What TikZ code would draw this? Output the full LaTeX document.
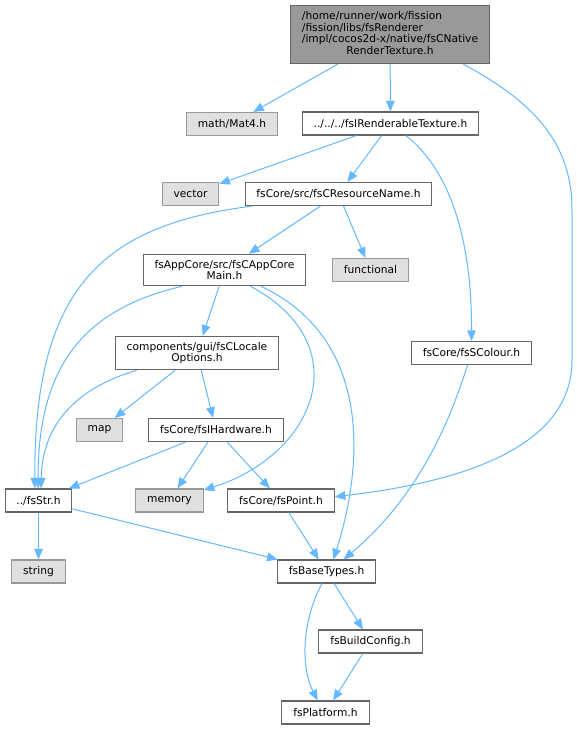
\documentclass[tikz,border=0pt]{standalone}
\usepackage{fontspec}
\setmainfont{DejaVu Sans}
\usetikzlibrary{arrows.meta}
\definecolor{edgeblue}{HTML}{63B8FF}
\definecolor{nodeline}{HTML}{666666}
\definecolor{sysline}{HTML}{999999}
\definecolor{sysfill}{HTML}{E0E0E0}
\definecolor{rootfill}{HTML}{999999}
\begin{document}
\begin{tikzpicture}[x=0.75pt, y=-0.75pt,
	hdr/.style={draw=nodeline, fill=white, line width=0.8pt, font=\fontsize{8}{8.6}\selectfont, inner xsep=8.5pt, inner ysep=4.4pt, minimum height=17.25pt, align=center},
	syshdr/.style={hdr, draw=sysline, fill=sysfill},
	tophdr/.style={hdr, fill=rootfill},
	dep/.style={draw=edgeblue, line width=0.75pt, -{Triangle[length=8pt,width=6.5pt,fill=edgeblue]}}]
	\useasboundingbox (0,0) rectangle (576,729);

	%included file
	\node[tophdr] (root) at (390,34.5){\begin{tabular}{@{}l@{}}/home/runner/work/fission\\/fission/libs/fsRenderer\\/impl/cocos2d-x/native/fsCNative\\\multicolumn{1}{@{}c@{}}{RenderTexture.h}\end{tabular}};

	%headers
	\node[syshdr] (mat4) at (232,124){math/Mat4.h};
	\node[hdr] (irend) at (390.5,123.5){../../../fsIRenderableTexture.h};
	\node[syshdr] (vector) at (190.5,194){vector};
	\node[hdr] (resname) at (338.5,194){fsCore/src/fsCResourceName.h};
	\node[hdr] (appcore) at (224.5,270){fsAppCore/src/fsCAppCore\\Main.h};
	\node[syshdr] (functional) at (370.5,270){functional};
	\node[hdr] (locale) at (197,353){components/gui/fsCLocale\\Options.h};
	\node[hdr] (scolour) at (471.5,353){fsCore/fsSColour.h};
	\node[syshdr] (map) at (99.5,430){map};
	\node[hdr] (hardware) at (216,430){fsCore/fsIHardware.h};
	\node[hdr] (str) at (38.5,500.5){../fsStr.h};
	\node[syshdr] (memory) at (169.5,500.5){memory};
	\node[hdr] (point) at (281,500.5){fsCore/fsPoint.h};
	\node[syshdr] (string) at (38.5,571.5){string};
	\node[hdr] (basetypes) at (326.5,571.5){fsBaseTypes.h};
	\node[hdr] (buildcfg) at (370.5,641.5){fsBuildConfig.h};
	\node[hdr] (platform) at (325.5,712.5){fsPlatform.h};

	%straight includes
	\foreach \a/\b in {root/mat4, root/irend, irend/vector, irend/resname, resname/appcore, resname/functional, appcore/locale, locale/map, locale/hardware, hardware/str, hardware/memory, hardware/point, str/string, str/basetypes, point/basetypes, basetypes/buildcfg, buildcfg/platform}{
		\draw[dep] (\a) -- (\b);
	}

	%curved includes
	\draw[dep] (root.-22) .. controls (530,100) and (572,140) .. (572,210) -- (572,360) .. controls (572,440) and (480,480) .. (point.4);
	\draw[dep] (irend.-38) .. controls (450,170) and (472,240) .. (scolour.north);
	\draw[dep] (resname.-172) .. controls (100,225) and (34,290) .. (str.107);
	\draw[dep] (appcore.-159) .. controls (80,310) and (38,370) .. (str.92);
	\draw[dep] (appcore.-32) .. controls (360,345) and (315,455) .. (memory.17);
	\draw[dep] (appcore.-24) .. controls (375,340) and (362,470) .. (basetypes.60);
	\draw[dep] (locale.-164) .. controls (70,390) and (42,430) .. (str.78);
	\draw[dep] (scolour.-108) .. controls (450,420) and (420,495) .. (basetypes.35);
	\draw[dep] (basetypes.-111) .. controls (300,625) and (302,670) .. (platform.123);
\end{tikzpicture}
\end{document}
